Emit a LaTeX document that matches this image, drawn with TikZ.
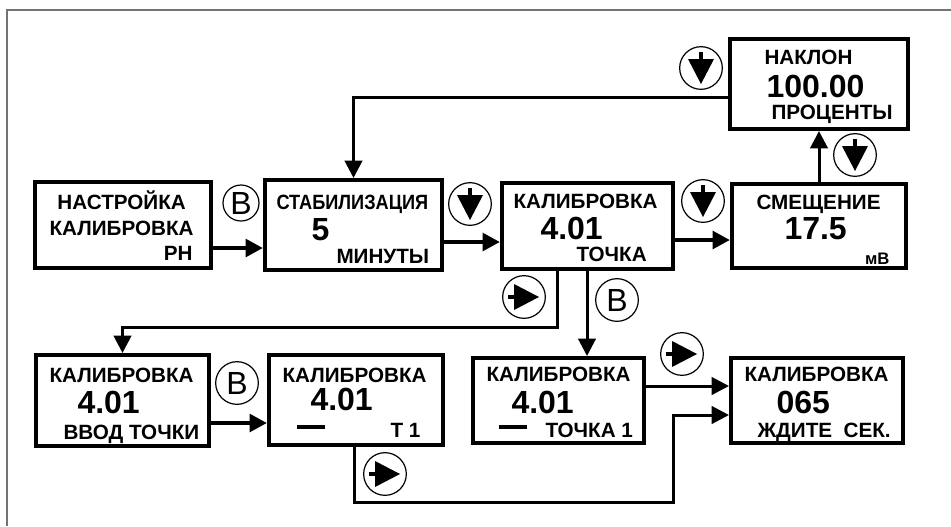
\documentclass[tikz,border=0pt]{standalone}
\usepackage{fontspec}
\setmainfont{Liberation Sans}
\usetikzlibrary{arrows.meta,fit}

\newcommand{\lblfont}{\fontsize{15.5}{18}\selectfont\bfseries}
\newcommand{\smlblfont}{\fontsize{12.5}{15}\selectfont\bfseries}
\newcommand{\bignumfont}{\fontsize{24}{28}\selectfont\bfseries}
\newcommand{\keyletterfont}{\fontsize{24}{28}\selectfont}

\tikzset{every picture/.style={line width=0.75pt}}
\tikzset{
  box/.style={draw, line width=3pt, inner sep=0pt},
  keyring/.style={circle, draw, line width=0.9pt, minimum size=32pt, inner sep=0pt, font=\keyletterfont},
  conn/.style={line width=2.25pt, -{Triangle[length=13pt,width=13pt]}},
  bold conn/.style={conn, line width=3.4pt},
  lbl/.style={anchor=base west, inner sep=0pt, font=\lblfont},
  lblr/.style={anchor=base east, inner sep=0pt, font=\lblfont},
  bignum/.style={anchor=base west, inner sep=0pt, font=\bignumfont},
  cursor/.style={line width=3.5pt},
  downglyph/.pic={\fill (-13,9) -- (13,9) -- (0,-16) -- cycle; \fill (-1.6,16) rectangle (1.6,9);},
  rightglyph/.pic={\fill (-10,-13) -- (15,0) -- (-10,13) -- cycle; \fill (-16,-1.6) rectangle (-10,1.6);}
}

\begin{document}
\begin{tikzpicture}[x=0.75pt,y=0.75pt,yscale=-1,xscale=1]
\useasboundingbox (0,0) rectangle (951,526);

%Frame
\draw [color=black!55, line width=1.5pt] (7,526) -- (7,10) -- (951,10) ;

%Shape: Rectangle -- upper row
\node [box, fit={(35,182) (211,268)}] (nastr) {};
\node [box, fit={(265,180) (442,270)}] (stab) {};
\node [box, fit={(502,183) (673,269)}] (kalib) {};
\node [box, fit={(732,184) (906,268)}] (smesh) {};
\node [box, fit={(730,39) (908,129)}] (nakl) {};
%Shape: Rectangle -- lower row
\node [box, fit={(36,355) (209,446)}] (vvod) {};
\node [box, fit={(269,355) (443,445)}] (tochT) {};
\node [box, fit={(473,358) (644,443)}] (tochka1) {};
\node [box, fit={(731,358) (903,443)}] (zhdite) {};

%Straight Lines
\draw [bold conn] (nastr.east |- 0,248) -- (stab.west |- 0,248) ;
\draw [bold conn] (stab.east |- 0,242) -- (kalib.west |- 0,242) ;
\draw [bold conn] (kalib.east |- 0,240) -- (smesh.west |- 0,240) ;
\draw [conn] (smesh.north) -- (nakl.south) ;
\draw [conn] (nakl.west |- 0,97) -| (stab.north) ;
\draw [conn] (kalib.south -| 557,0) -- (557,327) -| (vvod.north) ;
\draw [conn] (kalib.south -| 587,0) -- (tochka1.north -| 587,0) ;
\draw [bold conn] (vvod.east |- 0,423) -- (tochT.west |- 0,423) ;
\draw [conn] (tochka1.east |- 0,386) -- (zhdite.west |- 0,386) ;
\draw [conn] (tochT.south -| 354,0) |- (673,502) |- (zhdite.west |- 0,415) ;

%Shape: Circle -- keys
\node [keyring, minimum size=27pt] (kb1) at (241,203) {B};
\node [keyring] (kb2) at (237,383) {B};
\node [keyring] (kb3) at (617,300) {B};
\node [keyring] (kd1) at (470,204) {};
\node [keyring] (kd2) at (703,201) {};
\node [keyring] (kd3) at (701,68) {};
\node [keyring] (kd4) at (855,155) {};
\node [keyring] (kr1) at (524,297) {};
\node [keyring] (kr2) at (682,354) {};
\node [keyring] (kr3) at (385,474) {};
\pic at (kd1) {downglyph};
\pic at (kd2) {downglyph};
\pic at (kd3) {downglyph};
\pic at (kd4) {downglyph};
\pic at (kr1) {rightglyph};
\pic at (kr2) {rightglyph};
\pic at (kr3) {rightglyph};

% Text Node
\node [lbl] (t1a) at (57,209) {НАСТРОЙКА};
\node [lbl] (t1b) at (49,235) {КАЛИБРОВКА};
\node [lblr] (t1c) at (193,260) {РН};
% Text Node
\node [lbl] (t2a) at (276,209) {\scalebox{0.88}[1]{СТАБИЛИЗАЦИЯ}};
\node [bignum] (t2b) at (311,240) {5};
\node [lbl] (t2c) at (336,263) {МИНУТЫ};
% Text Node
\node [lbl] (t3a) at (513,208) {КАЛИБРОВКА};
\node [bignum] (t3b) at (540,239) {4.01};
\node [lbl] (t3c) at (576,261) {ТОЧКА};
% Text Node
\node [lbl] (t4a) at (756,209) {СМЕЩЕНИЕ};
\node [bignum] (t4b) at (784,239) {17.5};
\node [lblr, font=\smlblfont] (t4c) at (890,264) {мВ};
% Text Node
\node [lbl] (t5a) at (764,64) {НАКЛОН};
\node [bignum] (t5b) at (766,97) {100.00};
\node [lbl] (t5c) at (771,119) {ПРОЦЕНТЫ};
% Text Node
\node [lbl] (t6a) at (49,382) {КАЛИБРОВКА};
\node [bignum] (t6b) at (77,413) {4.01};
\node [lbl] (t6c) at (63,439) {ВВОД ТОЧКИ};
% Text Node
\node [lbl] (t7a) at (282,382) {КАЛИБРОВКА};
\node [bignum] (t7b) at (310,410) {4.01};
\draw [cursor] (297,427) -- (325,427) ;
\node [lblr] (t7c) at (421,437) {Т 1};
% Text Node
\node [lbl] (t8a) at (486,381) {КАЛИБРОВКА};
\node [bignum] (t8b) at (511,413) {4.01};
\draw [cursor] (499,427) -- (527,427) ;
\node [lbl] (t8c) at (545,437) {ТОЧКА 1};
% Text Node
\node [lbl] (t9a) at (744,381) {КАЛИБРОВКА};
\node [bignum] (t9b) at (776,413) {065};
\node [lbl] (t9c) at (757,437) {ЖДИТЕ\ \ СЕК.};

\end{tikzpicture}
\end{document}
